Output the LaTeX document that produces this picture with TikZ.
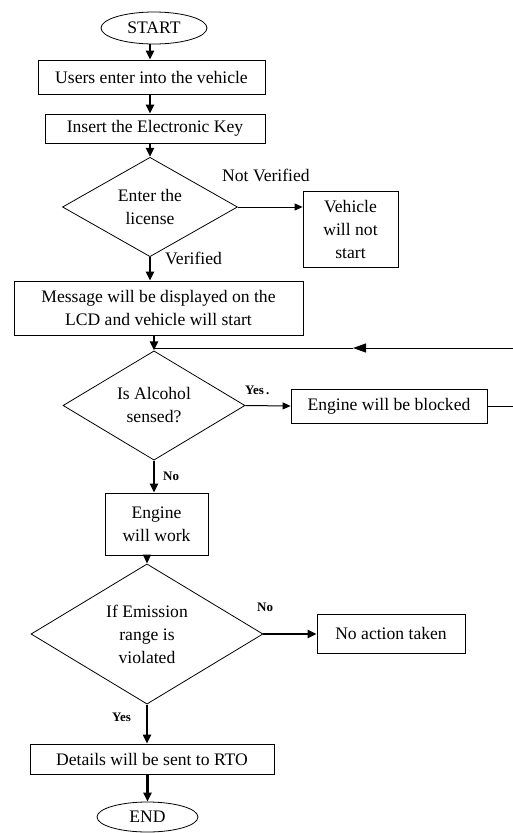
\documentclass[tikz,border=0pt]{standalone}
\usepackage{fontspec}
\setmainfont{Liberation Serif}
\usetikzlibrary{shapes.geometric,arrows.meta}
\begin{document}
\begin{tikzpicture}[x=1pt,y=-1pt,
  every node/.style={font=\fontsize{17.6}{23}\selectfont},
  box/.style={draw,line width=0.8pt,inner sep=0pt,align=center},
  term/.style={draw,ellipse,line width=0.8pt,inner sep=0pt},
  dec/.style={draw,diamond,line width=0.8pt,inner sep=0pt,align=center},
  lbl/.style={inner sep=0pt},
  blbl/.style={inner sep=0pt,font=\fontsize{13}{15}\selectfont\bfseries},
  thickarrow/.style={line width=2.2pt,-{Triangle[length=9pt,width=8pt]}},
  thinarrow/.style={line width=1pt,-{Triangle[length=8pt,width=7pt]}},
]
\fill[white] (0,0) rectangle (513,833);
\useasboundingbox (0,0) rectangle (513,833);

\node[term,minimum width=106pt,minimum height=32pt] (start) at (154,28) {START};
\node[box,minimum width=227pt,minimum height=34pt] (users) at (151.5,77) {Users enter into the vehicle};
\node[box,minimum width=220pt,minimum height=29pt] (key) at (155,128.5) {Insert the Electronic Key};
\node[dec,minimum width=175pt,minimum height=85pt] (lic) at (150,207) {Enter the\\license};
\node[box,minimum width=95pt,minimum height=76pt] (nostart) at (350.5,229) {Vehicle\\will not\\start};
\node[box,minimum width=289pt,minimum height=54pt] (msg) at (158.5,308) {Message will be displayed on the\\LCD and vehicle will start};
\node[dec,minimum width=182pt,minimum height=95pt] (alc) at (154,405.5) {Is Alcohol\\sensed?};
\node[box,minimum width=196pt,minimum height=34pt] (blocked) at (389,406) {Engine will be blocked};
\node[box,minimum width=103pt,minimum height=62pt] (work) at (156.5,524) {Engine\\will work};
\node[dec,minimum width=232pt,minimum height=132pt] (emis) at (147,634) {If Emission\\range is\\violated};
\node[box,minimum width=148pt,minimum height=39pt] (noact) at (391,633.5) {No action taken};
\node[box,minimum width=244pt,minimum height=30pt] (rto) at (152,759) {Details will be sent to RTO};
\node[term,minimum width=101pt,minimum height=30pt] (end) at (147.5,817) {END};

\node[lbl,anchor=west] (nv) at (222,175) {Not Verified};
\node[lbl,anchor=west] (ver) at (165,258) {Verified};
\node[blbl,anchor=west] (yes1) at (245,390) {Yes\,.};
\node[blbl,anchor=west] (no1) at (163,476) {No};
\node[blbl,anchor=west] (no2) at (257,607) {No};
\node[blbl,anchor=west] (yes2) at (112,717) {Yes};

\coordinate (r1) at (513,348);
\coordinate (fb) at (353,348);
\coordinate (r2) at (513,406);

\draw[thickarrow] (lic.north |- start.south) -- (lic.north |- users.north);
\draw[thickarrow] (lic.north |- users.south) -- (lic.north |- key.north);
\draw[thickarrow] (lic.north |- key.south) -- (lic.north);
\draw[thinarrow] (lic.east) -- (nostart.west |- lic.east);
\draw[thickarrow] (lic.south) -- (lic.south |- msg.north);
\draw[thickarrow] (alc.north |- msg.south) -- (alc.north);
\draw[line width=1pt,-{Triangle[length=13pt,width=9pt]}] (r1) -- (fb);
\draw[line width=1pt] (fb) -- (alc.north |- r1);
\draw[thinarrow] (alc.east) -- (blocked.west);
\draw[line width=1pt] (blocked.east) -- (r2);
\draw[thickarrow] (alc.south) -- (alc.south |- work.north);
\draw[thickarrow] (emis.north |- work.south) -- (emis.north);
\draw[thickarrow] (emis.east) -- (noact.west |- emis.east);
\draw[thickarrow] (emis.south) -- (emis.south |- rto.north);
\draw[thickarrow] (end.north |- rto.south) -- (end.north);
\end{tikzpicture}
\end{document}
